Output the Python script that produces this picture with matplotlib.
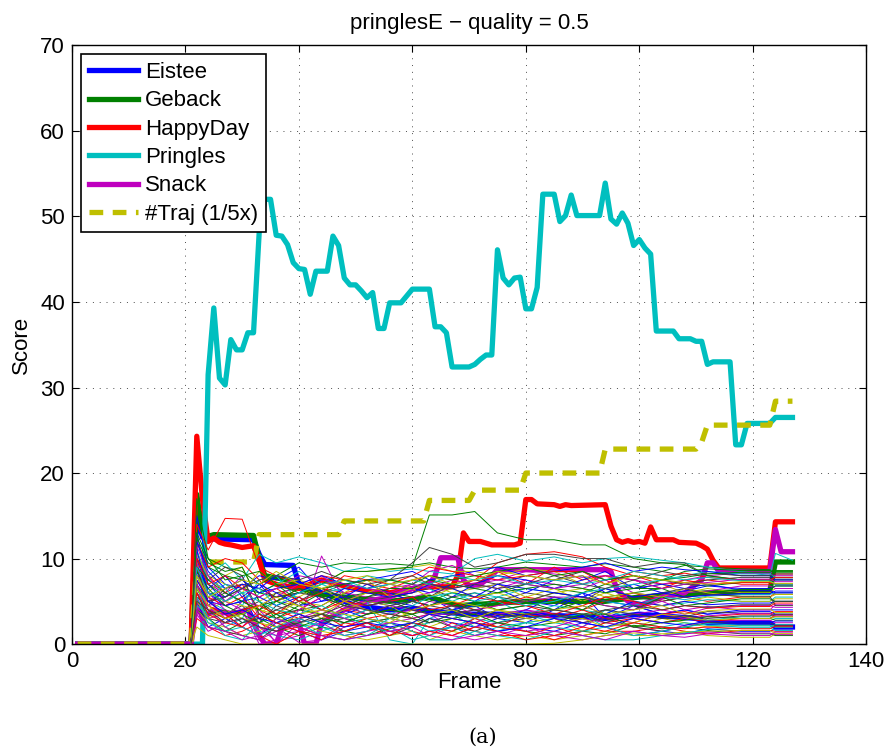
import matplotlib
matplotlib.use("Agg")
import matplotlib.pyplot as plt
import numpy as np

plt.rcParams['font.family'] = ['Liberation Sans', 'DejaVu Sans']

# --- thick series: per-frame Pringles, keyframes for the rest ---
pringles_frames = np.arange(1, 128)
pringles_vals = [0] * 22 + [
    0, 31.5, 39.3, 31.1, 30.3, 35.6, 34.4, 34.4, 36.4, 36.4,
    48.1, 52.0, 52.0, 47.8, 47.7, 46.7, 44.6, 43.9, 43.8, 40.9,
    43.6, 43.6, 43.6, 47.7, 46.6, 42.8, 42.0, 42.0, 41.3, 40.5,
    41.1, 36.9, 36.9, 39.9, 39.9, 39.9, 40.7, 41.5, 41.5, 41.5,
    41.5, 37.1, 37.1, 36.4, 32.4, 32.4, 32.4, 32.4, 32.7, 33.3,
    33.8, 33.8, 46.1, 42.8, 42.0, 42.8, 42.9, 39.2, 39.2, 41.7,
    52.6, 52.6, 52.6, 49.4, 50.1, 52.5, 50.1, 50.1, 50.1, 50.1,
    50.1, 53.9, 49.7, 49.1, 50.4, 49.2, 46.6, 47.3, 46.3, 45.6,
    36.6, 36.6, 36.6, 36.6, 35.7, 35.7, 35.7, 35.4, 35.4, 32.7,
    33.0, 33.0, 33.0, 33.0, 23.3, 23.3, 25.8, 25.8, 25.8, 25.8,
    25.8, 26.5, 26.5, 26.5, 26.5]

happy_frames = [1, 21, 22, 23, 24, 25, 26, 27, 28, 30, 32, 33, 34, 36, 40, 44, 48, 52,
                56, 60, 63, 67, 68, 69, 70, 72, 74, 78, 79, 80, 81, 82, 85, 86, 87, 88,
                94, 95, 96, 97, 98, 99, 100, 101, 102, 103, 106, 107, 110, 111, 112,
                113, 114, 123, 124, 127]
happy_vals = [0, 0, 24.3, 17.0, 12.0, 12.4, 11.9, 11.7, 11.6, 11.3, 11.5, 9.8, 7.5, 7.0,
              6.5, 7.5, 6.8, 6.2, 6.0, 6.5, 6.7, 6.7, 8.0, 13.0, 12.0, 12.0, 11.6, 11.6,
              11.8, 16.9, 16.9, 16.4, 16.3, 16.1, 16.3, 16.2, 16.3, 13.8, 12.2, 11.9,
              12.1, 11.9, 12.0, 11.8, 13.7, 12.2, 12.2, 11.9, 11.8, 11.5, 11.1, 9.8,
              8.9, 8.9, 14.3, 14.3]

eistee_frames = [1, 21, 22, 23, 24, 25, 32, 33, 34, 39, 40, 42, 46, 50, 56, 60, 64, 70,
                 80, 90, 94, 100, 110, 112, 123, 124, 127]
eistee_vals = [0, 0, 15.0, 12.5, 12.2, 12.3, 12.2, 10.5, 9.3, 9.2, 7.0, 6.5, 5.5, 4.5,
               4.0, 4.2, 3.8, 3.5, 3.5, 3.2, 3.0, 3.5, 3.0, 2.5, 2.5, 2.0, 2.0]

geback_frames = [1, 21, 22, 23, 24, 25, 32, 33, 34, 38, 42, 48, 56, 63, 68, 80, 94, 100,
                 112, 123, 124, 127]
geback_vals = [0, 0, 17.5, 13.0, 12.6, 12.8, 12.7, 10.0, 8.0, 7.5, 6.0, 5.5, 5.0, 5.5,
               4.5, 5.0, 5.0, 5.5, 6.0, 6.2, 9.6, 9.6]

snack_frames = [1, 21, 22, 23, 25, 28, 31, 33, 34, 36, 37, 40, 41, 43, 44, 48, 52, 56,
                60, 63, 64, 65, 68, 69, 70, 72, 74, 75, 94, 95, 96, 98, 100, 104, 108,
                111, 112, 113, 114, 123, 124, 125, 127]
snack_vals = [0, 0, 5.0, 3.0, 4.0, 3.5, 4.0, 1.0, 0, 0, 2.0, 2.5, 0, 0, 2.5, 4.0, 5.0,
              5.5, 6.5, 7.0, 8.0, 10.1, 10.1, 7.5, 6.8, 7.0, 8.0, 8.7, 8.7, 8.5, 6.5,
              5.0, 4.5, 5.5, 6.0, 7.5, 9.5, 9.5, 8.5, 8.5, 13.4, 10.8, 10.8]

traj_frames = [1, 21, 22, 32, 33, 47, 48, 62, 63, 70, 71, 79, 80, 93, 94, 110, 111, 112,
               123, 124, 127]
traj_vals = [0, 0, 9.6, 9.6, 12.8, 12.8, 14.4, 14.4, 16.8, 16.8, 18.0, 18.0, 20.0,
             20.0, 22.8, 22.8, 23.6, 25.6, 25.6, 28.4, 28.4]

# --- thin background trajectories, sampled on a shared frame grid ---
thin_frames = [21, 22, 24, 27, 30, 33, 36, 40, 44, 48, 52, 56, 60, 63, 67, 71, 75, 80,
               85, 90, 94, 99, 104, 108, 112, 118, 123, 124, 127]
thin_vals = [
    [0, 15, 9, 7, 6.5, 8, 7.5, 9, 6, 5.5, 5, 4.5, 5, 5.5, 4, 5, 6.5, 5, 4.5, 6, 5, 4.5, 3.5, 4, 3.5, 3.8, 3.8, 3.5, 3.5],
    [0, 17, 10, 9, 8.5, 7, 8, 9.5, 9, 9.5, 9.3, 9.4, 9.2, 9.5, 9.0, 8.8, 9.0, 9.6, 9.3, 9.0, 9.4, 9.0, 8.5, 9.2, 9.0, 8.8, 8.7, 8.5, 8.5],
    [0, 14, 11, 14.7, 14.6, 9, 8, 7, 6.5, 6, 6.5, 5.5, 6, 7.5, 6.5, 7.5, 9.5, 10.5, 10.8, 10.2, 9.0, 8.0, 7.0, 7.2, 7.5, 7.0, 7.0, 8.2, 8.2],
    [0, 12, 8, 9.5, 7.5, 10.5, 9.5, 10.2, 9.5, 8.5, 9.0, 8.5, 8.8, 8.5, 8.2, 10.0, 10.5, 9.7, 10.2, 9.5, 10.0, 10.2, 9.8, 9.5, 9.0, 8.5, 8.0, 10.6, 9.8],
    [0, 10, 7, 6, 8, 3, 0, 2.5, 10.3, 5, 6, 6.5, 7, 8.5, 9.2, 8.0, 7.5, 8.5, 8.2, 7.8, 8.0, 7.5, 7.0, 7.5, 8.0, 8.3, 8.2, 8.0, 8.0],
    [0, 9, 6, 8, 9, 5, 6, 5.5, 7, 8.5, 8.5, 8.7, 9, 9.3, 8.5, 8.5, 8.0, 8.8, 8.5, 7.0, 8.0, 6.5, 7.0, 6.0, 6.5, 6.0, 6.0, 6.5, 6.5],
    [0, 8, 5, 6, 5, 4, 6, 6.5, 6, 7, 6.5, 7.5, 9.5, 11.3, 10.5, 9.0, 9.5, 10.5, 10.5, 10.0, 10.0, 9.0, 9.5, 9.5, 8.0, 7.5, 7.5, 7.0, 7.0],
    [0, 13, 7, 5, 6, 2, 1.5, 3, 2, 4, 3, 2.5, 2, 3, 2.5, 2, 3, 2.5, 4, 6, 3, 4.5, 3.5, 4, 3.5, 4, 4, 4, 4],
    [0, 12, 9, 8, 7.5, 6, 5.5, 6, 7, 8.5, 8.5, 8.8, 9.0, 15.1, 15.1, 15.5, 13.0, 12.2, 12.2, 11.6, 11.6, 10.0, 9.5, 9.3, 8.0, 7.5, 7.5, 7.8, 7.8],
    [0, 10, 8, 6, 7, 4, 3, 4, 5.5, 4, 3.5, 4, 3.5, 4.5, 5, 4, 4.5, 5.5, 5, 4, 5, 6, 5, 5.5, 5, 5.5, 5.5, 6, 6],
    [0, 9, 5, 4, 3, 6, 7, 8.5, 7, 6, 5, 0.5, 0, 3, 4, 4.5, 5, 3.5, 4.5, 4, 3.5, 5, 4.5, 4.8, 5.2, 5.0, 5.0, 5.5, 5.5],
    [0, 8, 6, 4, 3.5, 2, 0.3, 1, 3, 5, 4, 3.5, 4, 5, 4.5, 3.5, 3, 4, 3.5, 2.5, 3, 3.5, 4, 3.5, 4.2, 4.5, 4.5, 4.3, 4.3],
    [0, 7, 4, 5, 6, 3.5, 5, 4.5, 3, 4, 5, 4.5, 3, 2, 3, 2.5, 3.5, 2.5, 3, 1.5, 2.5, 2, 3, 2.5, 2, 2.2, 2.2, 2, 2],
    [0, 6, 3, 2.5, 4, 5, 3.5, 4, 4.5, 6, 5, 5.5, 6, 6.5, 5.5, 6, 5, 6, 5.5, 5, 6.5, 5.5, 5, 5.5, 5.8, 6.2, 6.2, 5.8, 5.8],
    [0, 5, 2, 3, 2, 1, 2.5, 1.5, 0.5, 1.5, 2, 1.5, 1, 1.5, 2, 1, 1.5, 2, 1.5, 2.5, 2, 1, 1.5, 1.2, 1.8, 1.5, 1.5, 1.8, 1.8],
    [0, 4, 3, 1.5, 2.5, 3, 2, 1, 2, 1.5, 1, 1.8, 2.5, 2, 1.5, 2.5, 2, 1.5, 1, 1.5, 1.2, 2.2, 1.8, 2, 1.6, 1.2, 1.2, 1.0, 1.0],
    [0, 3, 2, 1, 1.5, 2.5, 1.5, 2, 1, 0.5, 1.5, 2.5, 1.5, 1, 2.5, 1.5, 1, 1, 2, 1, 1.5, 1.5, 2, 1.5, 1.2, 1.6, 1.6, 1.5, 1.5],
    [0, 6, 4, 2, 3, 1.5, 1, 0.5, 1.5, 2.5, 3, 2, 0.5, 1, 2, 3, 2.5, 3.5, 2.5, 2, 4, 3, 2.5, 3, 2.8, 3.2, 3.2, 3.0, 3.0],
    [0, 5, 3, 3.5, 2, 4, 2, 0.2, 0.5, 2, 2.5, 3, 2.5, 2, 1, 2, 2.5, 1.5, 2, 3, 2.5, 2, 1.5, 2.2, 2.6, 2.8, 2.8, 2.5, 2.5],
    [0, 4, 2.5, 2, 1, 1.5, 3, 2.5, 1.5, 1, 0.5, 1, 1.5, 0.5, 1.5, 1, 0.5, 1, 0.5, 1, 1.5, 1, 1, 1.5, 1, 0.8, 0.8, 1.2, 1.2],
    [0, 7, 5, 3.5, 4.5, 2.5, 4.5, 3.5, 2.5, 3, 4, 3, 4.5, 4, 3.5, 3, 4, 4.5, 4, 3.5, 4, 3.5, 3, 3.2, 3.8, 3.6, 3.6, 3.2, 3.2],
    [0, 9, 6.5, 8, 5.5, 7, 5, 6, 7.5, 7, 6.5, 7, 6.5, 6, 7, 6.5, 7, 6, 7.5, 8, 6, 7, 6, 6.2, 6.8, 6.5, 6.5, 6.8, 6.8],
    [0, 8, 7, 5.5, 6.5, 6, 7, 5, 4, 5.5, 6, 6, 5.5, 5, 6, 5.5, 6, 7, 6.5, 6, 7, 6.5, 6.5, 7, 6.8, 7.2, 7.2, 7.5, 7.5],
    [0, 12, 9, 10, 9.5, 7.5, 5, 6.5, 8, 7.5, 7, 6.5, 7.5, 8, 7.5, 7, 8.5, 7, 9, 7.5, 8, 7.5, 6.5, 7.5, 7, 7.2, 7.2, 7.0, 7.0],
    [0, 11, 7.5, 6.5, 4.5, 7.5, 8, 5, 6, 6.5, 8, 7.5, 7, 6.5, 5, 6, 5.5, 6.5, 6, 5.5, 5, 4.5, 5.5, 5.2, 5.6, 5.8, 5.8, 6.0, 6.0],
    [0, 9.5, 5.5, 3, 5, 4.5, 5.5, 7, 8, 6, 5.5, 5, 5.5, 6, 6.5, 7, 6.5, 7.5, 7, 6.5, 7.5, 6, 5.5, 6, 6.2, 6.8, 6.8, 6.5, 6.5],
    [0, 10.5, 8, 7, 6, 8.5, 7, 7.5, 6.5, 5, 6, 7, 6.5, 7, 6, 6.5, 7, 5.5, 6.5, 5, 6, 5, 4.5, 5, 5.5, 5.0, 5.0, 5.3, 5.3],
    [0, 5.5, 4.5, 6.5, 7, 6.5, 5.5, 6, 5.5, 4.5, 5.5, 6, 5, 5.5, 7, 7.5, 7, 8, 7.5, 8.5, 7.5, 8, 7.5, 7, 7.5, 7.8, 7.8, 7.6, 7.6],
    [0, 8.5, 5, 4.5, 5, 5.5, 4.5, 5.5, 4, 3.5, 4.5, 5, 4.5, 3.5, 4, 4.5, 3, 4, 5.5, 4.5, 3.5, 5, 4.5, 5, 4.6, 4.8, 4.8, 5.0, 5.0],
    [0, 6.5, 4, 3, 3.5, 4.5, 5, 4, 3.5, 3, 2.5, 3, 3.5, 4, 3.5, 5, 4.5, 5, 4, 5, 4.5, 4, 5.5, 4.5, 4.8, 5.3, 5.3, 5.0, 5.0],
    [0, 7.5, 5.5, 4.5, 5.5, 3, 4, 3, 3.5, 2, 3, 3.5, 3, 3.5, 3, 2.5, 2, 3.5, 3, 4, 3, 2.5, 3.5, 3.8, 3.2, 3.5, 3.5, 3.8, 3.8],
    [0, 4.5, 3.5, 4, 2.5, 3.5, 3, 2, 2.5, 3.5, 2, 1.5, 2, 2.5, 3.5, 2, 1.5, 2.5, 3, 3.5, 2, 2.5, 2, 2.5, 2.2, 2.0, 2.0, 2.3, 2.3],
    [0, 3.5, 1.5, 2.5, 3, 2, 1, 1.5, 2.5, 1, 1.5, 2, 1, 1.5, 1, 0.5, 1, 2, 1, 0.5, 1, 1.5, 1, 0.8, 1.2, 1.0, 1.0, 1.4, 1.4],
    [0, 2, 1, 0.5, 0, 0, 0, 0, 0, 0, 0, 0, 0, 0, 0, 0, 0, 0, 0.1, 0.5, 1.0, 1.3, 1.2, 1.4, 1.5, 1.6, 1.6, 1.2, 1.2],
    [0, 4, 2, 1.5, 1, 0.5, 2, 2.5, 3, 1.5, 2.5, 1, 2, 3, 2, 1.5, 2.5, 3, 3.5, 2.5, 3, 2, 1.5, 2, 2.5, 2.5, 2.5, 2.2, 2.2],
    [0, 10, 6, 5.5, 7, 6.5, 8, 7.5, 5, 5.5, 7, 6, 5, 4.5, 5.5, 7, 8, 7.5, 6.5, 7.5, 8.5, 6.5, 7, 6.5, 7.0, 6.3, 6.3, 6.0, 6.0],
    [0, 12.5, 9.5, 8.5, 9, 5, 3, 4.5, 6, 4.5, 3.5, 4, 5, 4.5, 5.5, 5, 4, 4.5, 5, 4, 5.5, 6, 6.5, 5.5, 6.0, 6.4, 6.4, 6.8, 6.8],
    [0, 9, 4.5, 3.5, 2, 1, 0, 1.5, 0.5, 2.5, 2, 1, 2.5, 2, 1.5, 3, 2, 1.5, 0.5, 1.5, 2.5, 3, 2.5, 3, 2.6, 3.0, 3.0, 3.4, 3.4],
    [0, 7, 3, 1, 0.5, 2.5, 3.5, 2.5, 1, 0.5, 1, 2.5, 1.5, 0.5, 0.5, 1.5, 1, 0.5, 1.5, 1, 0.5, 0.5, 1, 1.3, 1.7, 1.9, 1.9, 1.6, 1.6],
    [0, 6, 4.5, 5, 4, 0, 0.5, 4, 5.5, 4.5, 3.5, 4.5, 4, 3.5, 3.5, 4, 4.5, 5, 5.5, 5.5, 4.5, 4, 5, 4, 4.4, 4.0, 4.0, 4.6, 4.6],
    [0, 8, 6, 5, 4.5, 4, 3.5, 5, 4.5, 6, 7.5, 5.5, 6.5, 5.5, 6.5, 5.5, 6, 5, 6, 6.5, 5.5, 6, 5.5, 6.5, 6.0, 5.5, 5.5, 5.8, 5.8],
    [0, 10, 7.5, 9, 8, 3.5, 2.5, 3, 3.5, 2.5, 3.5, 4.5, 5, 4.5, 4, 3.5, 5.5, 5, 6, 5.5, 5, 5.5, 6, 6.5, 5.8, 5.6, 5.6, 4.5, 4.5],
    [0, 11, 6, 4.5, 5, 7, 6, 4.5, 5, 6.5, 6, 5.5, 6, 7, 6.5, 5.5, 7, 6.5, 6, 5.5, 6.5, 5.5, 6, 5.5, 5.7, 5.9, 5.9, 6.2, 6.2],
    [0, 9, 7.5, 6, 5, 4, 5, 6.5, 5.5, 4.5, 5.5, 6.5, 6.5, 7.5, 7, 6.5, 6, 6.5, 7, 6.5, 6, 6.5, 7.5, 8.5, 8.8, 8.6, 8.6, 8.4, 8.4],
    [0, 7, 4, 3, 4, 4.5, 3.5, 5.5, 4, 5, 4.5, 5, 5.5, 4, 4.5, 5.5, 5, 4.5, 3.5, 4.5, 5.5, 5, 4, 4.5, 4.2, 4.4, 4.4, 4.8, 4.8],
    [0, 8, 5.5, 7, 6, 5, 4, 3.5, 4.5, 3, 4, 3.5, 4.5, 5.5, 6, 5, 5.5, 4.5, 5, 6, 6.5, 7, 7.5, 8, 8.5, 8.2, 8.2, 7.8, 7.8],
    [0, 7, 4, 2, 1, 0.5, 1.5, 3, 4, 3, 2, 2.5, 3, 3.5, 2, 2.5, 3.5, 4, 3, 2, 3.5, 3, 3.5, 3, 3.3, 3.6, 3.6, 3.3, 3.3],
    [0, 5, 3, 4, 3, 2.5, 2, 3.5, 4, 3.5, 3, 2.5, 4, 4.5, 5, 4.5, 4, 3.5, 4, 4.5, 3.5, 4, 4.5, 3.5, 3.9, 4.1, 4.1, 3.7, 3.7],
    [0, 6, 3.5, 4, 2.5, 3, 4, 5, 6.5, 5.5, 4.5, 5, 4, 3.5, 4.5, 4, 3.5, 3, 3.5, 3, 4, 4.5, 4, 4.5, 4.3, 4.6, 4.6, 5.0, 5.0],
    [0, 12, 8.5, 6.5, 7.5, 6, 6.5, 7, 8, 7, 7.5, 8, 8.5, 7.5, 8, 8.5, 9, 8, 8.5, 9, 9.5, 8.5, 9, 8.7, 8.5, 8.0, 8.0, 7.5, 7.5],
    [0, 8.5, 6.5, 4.5, 3.5, 2.5, 3.5, 2, 3, 2.5, 3.5, 4, 3.5, 2.5, 3, 3.5, 2.5, 2, 2.5, 3.5, 3.5, 2, 2.5, 2.8, 3.2, 3.0, 3.0, 2.8, 2.8],
    [0, 10, 7, 8, 6.5, 5.5, 6.5, 5, 6, 8, 7.5, 7, 8, 9, 8.5, 8, 7.5, 8, 8.5, 8.5, 7, 8.5, 8, 8.3, 7.8, 7.5, 7.5, 7.8, 7.8],
    [0, 5.5, 2.5, 1.5, 2, 1, 2, 3, 2, 1, 1.5, 3, 2.5, 1.5, 2, 1, 2, 2.5, 2, 1.5, 2, 1, 1.5, 2.0, 2.4, 2.2, 2.2, 2.0, 2.0],
    [0, 11.5, 8, 5, 6.5, 5.5, 6.5, 8, 7.5, 7, 6.5, 6, 7, 6.5, 7.5, 7, 7.5, 7, 6.5, 7, 8, 7.5, 6.5, 7, 7.2, 7.6, 7.6, 7.3, 7.3],
    [0, 6.5, 4.5, 3, 3.5, 4.5, 5.5, 4.5, 3.5, 5, 4, 3, 2.5, 3.5, 4, 3, 4, 3, 2.5, 3, 2, 2.5, 3.5, 3.2, 2.8, 3.0, 3.0, 3.2, 3.2],
    [0, 9, 5, 5.5, 6.5, 7.5, 8, 7.5, 8.5, 7.5, 7, 7.5, 8, 7, 6.5, 7, 6.5, 7, 8, 7, 6.5, 7.5, 8.5, 8, 8.3, 8.0, 8.0, 8.2, 8.2],
    [0, 7.5, 5, 3.5, 4, 3, 2.5, 3.5, 2.5, 2, 2.5, 2, 2.5, 3.5, 3, 2.5, 1.5, 2, 3, 2.5, 2, 3, 2.5, 2.2, 2.7, 2.5, 2.5, 2.7, 2.7],
    [0, 13, 10, 7.5, 8, 8.5, 7, 6, 6.5, 7, 7.5, 7.5, 7, 8, 7.5, 8, 8.5, 9, 8, 8.5, 7.5, 8, 7.5, 7.8, 8.2, 8.4, 8.4, 8.6, 8.6],
    [0, 6, 3.5, 2.5, 2, 3.5, 2.5, 1.5, 1, 1.5, 2.5, 1.5, 1, 1.5, 1, 2, 1.5, 0.5, 1, 2, 1.5, 2.5, 2, 1.8, 2.0, 1.8, 1.8, 2.1, 2.1],
    [0, 9, 6, 5, 6, 6.5, 4.5, 6, 7, 7.5, 6.5, 7, 7.5, 7, 8, 7.5, 8, 7, 7.5, 7, 7.5, 8.5, 8, 7.5, 7.8, 7.4, 7.4, 7.0, 7.0],
    [0, 4, 2, 1.5, 0.5, 1, 3, 2, 1, 0.5, 1, 1.5, 2, 1, 0.5, 1, 1.5, 1, 1.5, 1, 0.5, 1.5, 1, 1.2, 1.4, 1.3, 1.3, 1.1, 1.1],
    [0, 8, 5.5, 6.5, 7.5, 7, 8.5, 7, 6.5, 7.5, 8, 7, 7.5, 8, 7, 7.5, 8.5, 8, 7.5, 8, 7, 8, 7.5, 7.2, 7.0, 7.3, 7.3, 7.1, 7.1],
    [0, 5, 4, 2.5, 3, 2, 1.5, 2.5, 3.5, 4.5, 4, 3.5, 3, 2.5, 3.5, 4, 3, 3.5, 4, 3.5, 2.5, 3.5, 3, 3.3, 3.0, 3.3, 3.3, 3.5, 3.5],
]

# old MATLAB colour order
matlab_colors = [(0, 0, 1), (0, 0.5, 0), (1, 0, 0), (0, 0.75, 0.75),
                 (0.75, 0, 0.75), (0.75, 0.75, 0), (0.25, 0.25, 0.25)]

fig = plt.figure(figsize=(8.93, 7.56), dpi=100)
ax = fig.add_axes([0.0806, 0.148, 0.8894, 0.792])

lw = 3.8
ax.plot(eistee_frames, eistee_vals, color=(0, 0, 1), lw=lw, label='Eistee', zorder=2)
ax.plot(geback_frames, geback_vals, color=(0, 0.5, 0), lw=lw, label='Geback', zorder=2)
ax.plot(happy_frames, happy_vals, color=(1, 0, 0), lw=lw, label='HappyDay', zorder=2)
ax.plot(pringles_frames, pringles_vals, color=(0, 0.75, 0.75), lw=lw, label='Pringles',
        zorder=2)
ax.plot(snack_frames, snack_vals, color=(0.75, 0, 0.75), lw=lw, label='Snack', zorder=2)
ax.plot(traj_frames, traj_vals, color=(0.75, 0.75, 0), lw=lw, ls=(0, (2.6, 1.8)),
        label='#Traj (1/5x)', zorder=2)

# thin trajectories drawn over the thick ones, as in the original figure
for i, vals in enumerate(thin_vals):
    ax.plot(thin_frames, vals, color=matlab_colors[i % 7], lw=0.7, zorder=3)

ax.set_xlim(0, 140)
ax.set_ylim(0, 70)
ax.set_xticks(np.arange(0, 141, 20))
ax.set_yticks(np.arange(0, 71, 10))
ax.tick_params(direction='in', top=True, right=True, labelsize=16, length=5, pad=5)
ax.grid(True, ls=(0, (1, 6)), color='0.3', lw=0.7)
ax.set_xlabel('Frame', fontsize=16, labelpad=0)
ax.set_ylabel('Score', fontsize=16, labelpad=6)
ax.set_title('pringlesE \u2212 quality = 0.5', fontsize=16, pad=12)
for s in ax.spines.values():
    s.set_linewidth(1.0)

leg = ax.legend(loc='upper left', fontsize=16, handlelength=2.2, handletextpad=0.35,
                labelspacing=0.33, borderpad=0.35, fancybox=False, framealpha=1,
                borderaxespad=0.4)
leg.set_zorder(5)
leg.get_frame().set_edgecolor('black')
leg.get_frame().set_linewidth(1.2)

fig.text(0.541, 0.017, '(a)', fontsize=15, family='DejaVu Serif', ha='center')

fig.savefig('out.png', dpi=100)
